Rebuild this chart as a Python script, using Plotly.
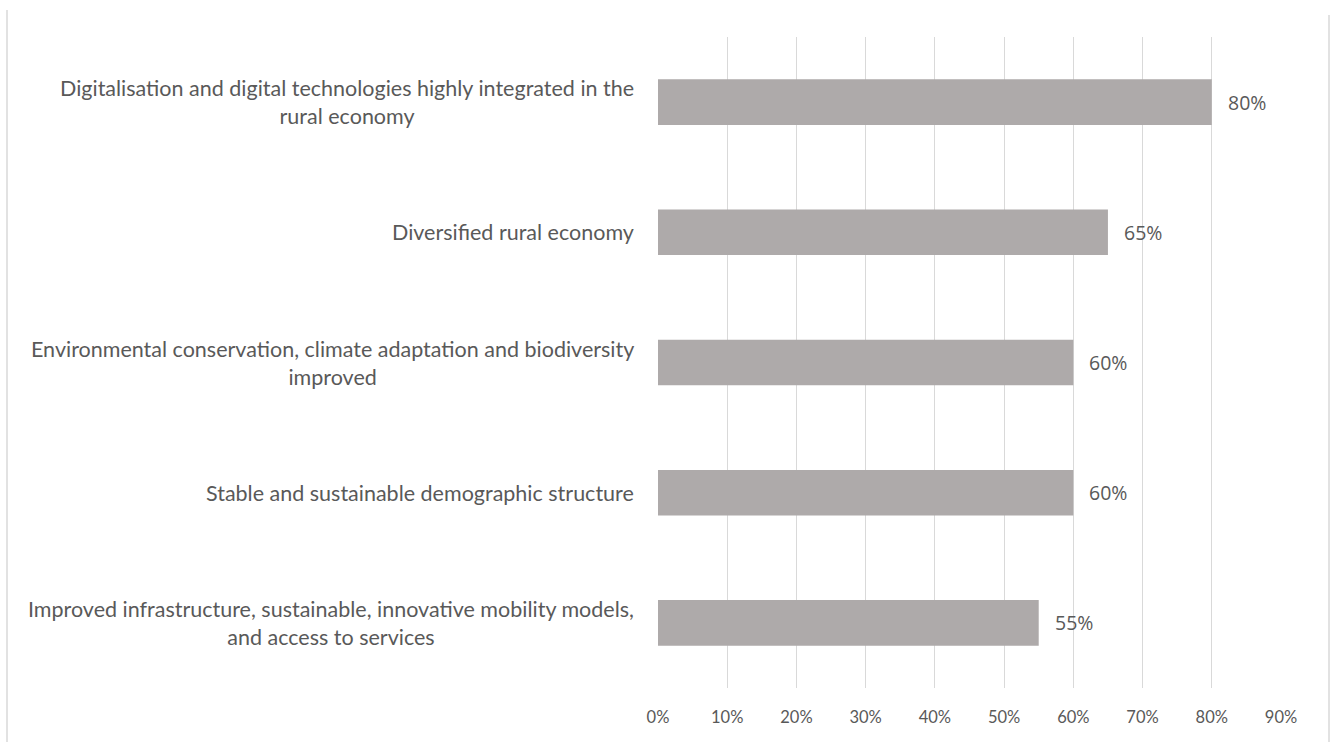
import plotly.graph_objects as go

categories = [
    "Digitalisation and digital technologies highly integrated in the<br>rural economy",
    "Diversified rural economy",
    "Environmental conservation, climate adaptation and biodiversity<br>improved",
    "Stable and sustainable demographic structure",
    "Improved infrastructure, sustainable, innovative mobility models,<br>and access to services",
]
values = [0.80, 0.65, 0.60, 0.60, 0.55]
value_labels = ["80%", "65%", "60%", "60%", "55%"]
tick_vals = [0, 0.1, 0.2, 0.3, 0.4, 0.5, 0.6, 0.7, 0.8, 0.9]
tick_text = ["0%", "10%", "20%", "30%", "40%", "50%", "60%", "70%", "80%", "90%"]

W, H = 1333, 742
L, R, T, B = 658, 52, 37, 54
pw, ph = W - L - R, H - T - B

fig = go.Figure()
fig.add_trace(go.Bar(
    x=values, y=categories, orientation="h",
    marker=dict(color="#AEAAAA", line=dict(width=0)),
    width=0.35,
    hoverinfo="skip",
))

for c, v, t in zip(categories, values, value_labels):
    fig.add_annotation(
        x=0, xref="paper", y=c, yref="y", text=c,
        xanchor="right", yanchor="middle", align="center", xshift=-22,
        showarrow=False,
        font=dict(family="Lato", size=21.5, color="#595959"),
    )
    fig.add_annotation(
        x=v, xref="x", y=c, yref="y", text=t,
        xanchor="left", yanchor="middle", xshift=14,
        showarrow=False,
        font=dict(family="Open Sans", size=19.5, color="#595959"),
    )

fig.update_layout(
    width=W, height=H,
    margin=dict(l=L, r=R, t=T, b=B),
    paper_bgcolor="white", plot_bgcolor="white",
    showlegend=False,
    bargap=0.65,
    font=dict(family="Lato", color="#595959"),
    xaxis=dict(
        range=[0, 0.9], tickvals=tick_vals, ticktext=tick_text,
        showgrid=True, gridcolor="#D9D9D9", gridwidth=1,
        zeroline=False, showline=False,
        ticks="outside", ticklen=14, tickcolor="rgba(0,0,0,0)",
        tickfont=dict(family="Lato", size=16.5, color="#595959"),
    ),
    yaxis=dict(
        autorange="reversed", showticklabels=False, showgrid=False,
        zeroline=False, showline=False,
    ),
    shapes=[
        dict(type="line", xref="paper", yref="paper",
             x0=(7 - L) / pw, x1=(7 - L) / pw,
             y0=(H - 10 - B) / ph, y1=-B / ph,
             line=dict(color="#D9D9D9", width=1.5)),
        dict(type="line", xref="paper", yref="paper",
             x0=(1329 - L) / pw, x1=(1329 - L) / pw,
             y0=(H - 15 - B) / ph, y1=-B / ph,
             line=dict(color="#D9D9D9", width=1.5)),
    ],
)

fig.write_html("out.html", config={"displayModeBar": False},
               post_script="document.body.style.margin='0';")
